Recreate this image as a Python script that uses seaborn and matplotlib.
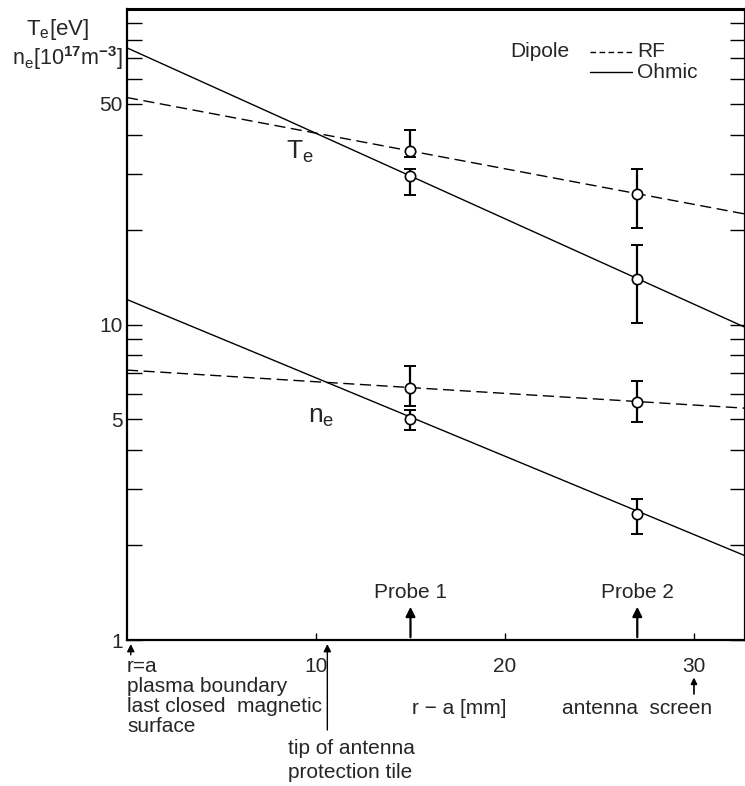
import matplotlib
matplotlib.use("Agg")
import numpy as np
import pandas as pd
import seaborn as sns
import matplotlib.pyplot as plt
from matplotlib import ticker, transforms

# Probe positions, r - a in mm
probe_x = [15, 27]

# Electron temperature T_e [eV] with error-bar limits
te_rf = [35.4, 25.9]
te_rf_lo = [33.9, 20.2]
te_rf_hi = [41.4, 31.0]
te_ohm = [29.5, 13.9]
te_ohm_lo = [25.7, 10.1]
te_ohm_hi = [31.0, 17.9]

# Electron density n_e [1e17 m^-3] with error-bar limits
ne_rf = [6.3, 5.7]
ne_rf_lo = [5.5, 4.9]
ne_rf_hi = [7.4, 6.6]
ne_ohm = [5.0, 2.5]
ne_ohm_lo = [4.64, 2.17]
ne_ohm_hi = [5.37, 2.80]

# Exponential fits, evaluated at both ends of the radial range
fit_x = [0.0, 32.7]
te_rf_fit = [52.4, 22.4]
te_ohm_fit = [75.3, 9.8]
ne_rf_fit = [7.17, 5.43]
ne_ohm_fit = [12.0, 1.85]

y_major = [1, 5, 10, 50]
y_minor = [2, 3, 4, 6, 7, 8, 9, 20, 30, 40, 60, 70, 80, 90]
x_ticks = [10, 20, 30]

sns.set_theme(style="ticks")
plt.rcParams["font.family"] = ["Liberation Sans", "DejaVu Sans"]
plt.rcParams["mathtext.fontset"] = "custom"
plt.rcParams["mathtext.rm"] = "Liberation Sans"
plt.rcParams["mathtext.it"] = "Liberation Sans:italic"
plt.rcParams["mathtext.bf"] = "Liberation Sans:bold"

FS = 15

W, H = 745, 786
fig = plt.figure(figsize=(W / 100, H / 100), dpi=100)
fig.patch.set_facecolor("white")
ax = fig.add_axes([127 / W, 1 - 640 / H, 618 / W, 631 / H])
ax.set_facecolor("white")

# fitted profiles
rows = []
for quantity, heating, vals in [("Te", "RF", te_rf_fit), ("Te", "Ohmic", te_ohm_fit),
                                ("ne", "RF", ne_rf_fit), ("ne", "Ohmic", ne_ohm_fit)]:
    for xv, yv in zip(fit_x, vals):
        rows.append({"x": xv, "y": yv, "curve": quantity + heating, "heating": heating})
fits = pd.DataFrame(rows)
sns.lineplot(data=fits, x="x", y="y", units="curve", style="heating", estimator=None,
             dashes={"RF": (8, 4), "Ohmic": ""}, color="black", lw=1.0,
             legend=False, ax=ax, sort=False)

# measured points with error bars
for vals, lo, hi in [(te_rf, te_rf_lo, te_rf_hi), (te_ohm, te_ohm_lo, te_ohm_hi),
                     (ne_rf, ne_rf_lo, ne_rf_hi), (ne_ohm, ne_ohm_lo, ne_ohm_hi)]:
    v = np.array(vals)
    yerr = [v - np.array(lo), np.array(hi) - v]
    ax.errorbar(probe_x, v, yerr=yerr, fmt="none", ecolor="black",
                elinewidth=1.6, capsize=4, capthick=1.4, zorder=3)
    sns.scatterplot(x=probe_x, y=vals, marker="o", s=55, facecolor="white",
                    edgecolor="black", linewidth=1.2, zorder=5, ax=ax, legend=False)

ax.set_yscale("log")
ax.set_ylim(1, 100)
ax.set_xlim(fit_x[0], fit_x[1])
ax.yaxis.set_major_locator(ticker.FixedLocator(y_major))
ax.yaxis.set_major_formatter(ticker.FuncFormatter(lambda v, _: f"{v:g}"))
ax.yaxis.set_minor_locator(ticker.FixedLocator(y_minor))
ax.yaxis.set_minor_formatter(ticker.NullFormatter())
ax.set_xticks(x_ticks)
ax.set_xticklabels([str(t) for t in x_ticks])
ax.tick_params(axis="y", which="both", direction="in", length=11, width=1.0,
               left=True, right=True, labelsize=FS, pad=3, color="black")
ax.tick_params(axis="x", which="both", direction="in", length=5, width=1.0,
               bottom=True, top=False, labelsize=FS, pad=12, color="black")
ax.set_xlabel("")
ax.set_ylabel("")
for side, lw in [("left", 1.6), ("bottom", 1.6), ("right", 1.6), ("top", 2.2)]:
    ax.spines[side].set_visible(True)
    ax.spines[side].set_linewidth(lw)
    ax.spines[side].set_color("black")

# curve labels
ax.text(9.15, 35.2, r"T$_\mathrm{e}$", fontsize=19, ha="center", va="center")
ax.text(10.3, 5.1, r"n$_\mathrm{e}$", fontsize=19, ha="center", va="center")

# axis title at the upper left
fig.text(58 / W, 1 - 30 / H, r"T$_\mathrm{e}$[eV]", fontsize=16, ha="center", va="center")
fig.text(67 / W, 1 - 58 / H, r"n$_\mathrm{e}$[10$^{\mathbf{17}}$m$^{\mathbf{-3}}$]",
         fontsize=15.5, ha="center", va="center")

trans = transforms.blended_transform_factory(ax.transData, ax.transAxes)

# legend
ax.text(20.3, 0.932, "Dipole", transform=trans, fontsize=FS, ha="left", va="center")
ax.plot([24.5, 26.7], [0.932, 0.932], transform=trans, color="black", lw=1.0,
        ls=(0, (4, 2.5)))
ax.text(27.0, 0.932, "RF", transform=trans, fontsize=FS, ha="left", va="center")
ax.plot([24.5, 26.7], [0.900, 0.900], transform=trans, color="black", lw=1.0)
ax.text(27.0, 0.900, "Ohmic", transform=trans, fontsize=FS, ha="left", va="center")

# probe markers
for xp, name in zip(probe_x, ["Probe 1", "Probe 2"]):
    ax.annotate("", xy=(xp, 0.057), xycoords=trans, xytext=(xp, 0.0), textcoords=trans,
                arrowprops=dict(arrowstyle="-|>", color="black", lw=1.6, mutation_scale=14))
    ax.text(xp, 0.0745, name, transform=trans, fontsize=FS, ha="center", va="center")

# annotations below the axis
def up_arrow(x, y0, y1, lw=1.0, scale=11):
    ax.annotate("", xy=(x, y1), xycoords=trans, xytext=(x, y0), textcoords=trans,
                arrowprops=dict(arrowstyle="-|>", color="black", lw=lw, mutation_scale=scale),
                annotation_clip=False)

up_arrow(0.2, -0.028, -0.002)
for yp, s in [(667, "r=a"), (686, "plasma boundary"), (707, "last closed  magnetic"),
              (727, "surface")]:
    ax.text(0.0, (640 - yp) / 631, s, transform=trans, fontsize=FS, ha="left", va="center")

up_arrow(10.6, -0.147, -0.002)
ax.text(8.52, (640 - 748) / 631, "tip of antenna", transform=trans, fontsize=FS,
        ha="left", va="center")
ax.text(8.52, (640 - 772) / 631, "protection tile", transform=trans, fontsize=FS,
        ha="left", va="center")

ax.text(17.6, (640 - 708) / 631, "r − a [mm]", transform=trans, fontsize=FS,
        ha="center", va="center")
ax.text(27.0, (640 - 708) / 631, "antenna  screen", transform=trans, fontsize=FS,
        ha="center", va="center")
up_arrow(30.0, -0.090, -0.055, lw=1.2, scale=9)

fig.savefig("out.png", dpi=100, facecolor="white")
